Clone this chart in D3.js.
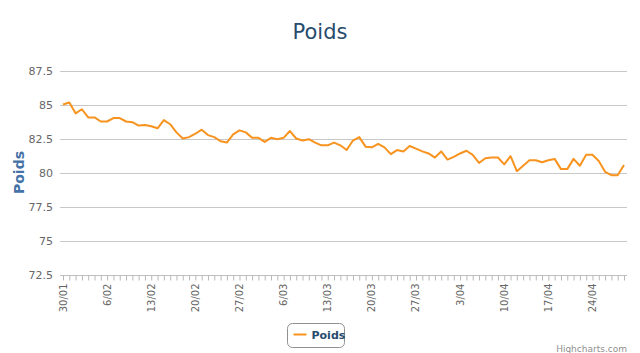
<!DOCTYPE html>
<html>
<head>
<meta charset="utf-8">
<script src="https://cdn.jsdelivr.net/npm/d3@7/dist/d3.min.js"></script>
<style>
  body { margin: 0; background: #fff; }
  svg { display: block; font-family: "DejaVu Sans", Verdana, sans-serif; }
</style>
</head>
<body>
<svg id="chart" width="640" height="353"></svg>
<script>
const width = 640, height = 353;

// daily weights from 30/01 onwards
const startDate = new Date(2013, 0, 30);
const poids = [
    85.0, 85.15, 84.35, 84.65, 84.05, 84.05, 83.75, 83.75, 84.0, 84.0,
    83.75, 83.7, 83.45, 83.5, 83.4, 83.25, 83.85, 83.55, 82.95, 82.5,
    82.6, 82.85, 83.15, 82.75, 82.6, 82.3, 82.2, 82.8, 83.1, 82.95,
    82.55, 82.55, 82.25, 82.55, 82.45, 82.55, 83.05, 82.5, 82.35, 82.45,
    82.2, 82.0, 82.0, 82.2, 82.0, 81.65, 82.35, 82.6, 81.9, 81.85,
    82.1, 81.85, 81.35, 81.65, 81.55, 81.95, 81.75, 81.55, 81.4, 81.1,
    81.55, 80.95, 81.15, 81.4, 81.6, 81.3, 80.7, 81.05, 81.1, 81.1,
    80.6, 81.2, 80.1, 80.5, 80.9, 80.9, 80.75, 80.9, 81.0, 80.25,
    80.25, 81.0, 80.5, 81.3, 81.3, 80.85, 80.05, 79.8, 79.8, 80.55
];
const yTicks = [72.5, 75, 77.5, 80, 82.5, 85, 87.5];
const xTickLabels = ["30/01", "6/02", "13/02", "20/02", "27/02", "6/03", "13/03",
    "20/03", "27/03", "3/04", "10/04", "17/04", "24/04"];

const dates = poids.map((v, i) => d3.timeDay.offset(startDate, i));
const data = poids.map((v, i) => ({ date: dates[i], value: v }));

const plot = { left: 60, right: 627, top: 70.5, bottom: 274.5 };

const svg = d3.select("#chart");

const x = d3.scaleTime()
    .domain(d3.extent(dates))
    .range([63, 624]);

const y = d3.scaleLinear()
    .domain([72.5, 87.5])
    .range([plot.bottom, plot.top]);

// gridlines
svg.append("g")
    .selectAll("line")
    .data(yTicks.slice(1))
    .enter()
    .append("line")
    .attr("x1", plot.left)
    .attr("x2", plot.right)
    .attr("y1", d => Math.round(y(d)) + 0.5)
    .attr("y2", d => Math.round(y(d)) + 0.5)
    .attr("stroke", "#c8c8c8")
    .attr("stroke-width", 1);

// y labels
svg.append("g")
    .selectAll("text")
    .data(yTicks)
    .enter()
    .append("text")
    .attr("x", 53)
    .attr("y", d => y(d) + 4)
    .attr("text-anchor", "end")
    .attr("font-size", "11px")
    .attr("fill", "#666")
    .text(d => d);

// x axis with daily ticks
const xAxis = d3.axisBottom(x)
    .ticks(d3.timeDay.every(1))
    .tickSize(5)
    .tickFormat("");

const gx = svg.append("g")
    .attr("transform", `translate(0,${Math.round(plot.bottom) + 0.5})`)
    .call(xAxis);
gx.select(".domain")
    .attr("d", `M${plot.left},0H${plot.right}`)
    .attr("stroke", "#c0c0c0");
gx.selectAll(".tick line").attr("stroke", "#b8b8b8");

const parseLabel = d3.timeParse("%d/%m/%Y");
svg.append("g")
    .selectAll("text")
    .data(xTickLabels)
    .enter()
    .append("text")
    .attr("transform", d => `translate(${x(parseLabel(d + "/2013")) + 3.5},${plot.bottom + 9}) rotate(-90)`)
    .attr("text-anchor", "end")
    .attr("font-size", "10px")
    .attr("fill", "#666")
    .text(d => d);

// series
const line = d3.line()
    .x(d => x(d.date))
    .y(d => y(d.value));

svg.append("path")
    .datum(data)
    .attr("fill", "none")
    .attr("stroke", "#f7931e")
    .attr("stroke-width", 2)
    .attr("stroke-linejoin", "round")
    .attr("d", line);

// titles
svg.append("text")
    .attr("x", width / 2)
    .attr("y", 39)
    .attr("text-anchor", "middle")
    .attr("font-size", "21px")
    .attr("fill", "#274b6d")
    .text("Poids");

svg.append("text")
    .attr("transform", `translate(24,${(plot.top + plot.bottom) / 2}) rotate(-90)`)
    .attr("text-anchor", "middle")
    .attr("font-size", "14px")
    .attr("font-weight", "bold")
    .attr("fill", "#4572a7")
    .text("Poids");

// legend
const legend = svg.append("g").attr("transform", "translate(287.5,323.5)");
legend.append("rect")
    .attr("width", 57)
    .attr("height", 24)
    .attr("rx", 5)
    .attr("fill", "#fff")
    .attr("stroke", "#909090");
legend.append("line")
    .attr("x1", 6).attr("x2", 19)
    .attr("y1", 11).attr("y2", 11)
    .attr("stroke", "#f7931e")
    .attr("stroke-width", 2);
legend.append("text")
    .attr("x", 24)
    .attr("y", 15)
    .attr("font-size", "11px")
    .attr("font-weight", "bold")
    .attr("fill", "#274b6d")
    .text("Poids");

// credits
svg.append("text")
    .attr("x", 627)
    .attr("y", 352)
    .attr("text-anchor", "end")
    .attr("font-size", "9px")
    .attr("fill", "#909090")
    .text("Highcharts.com");
</script>
</body>
</html>
